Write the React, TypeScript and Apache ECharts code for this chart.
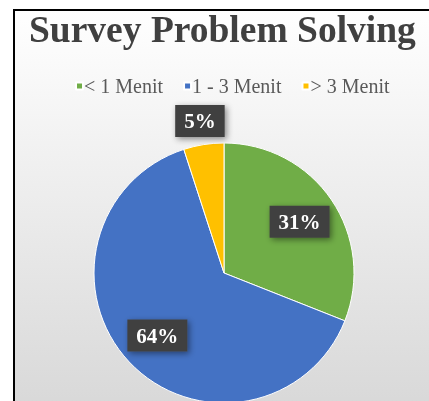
import React, { useEffect, useRef } from "react";
import * as echarts from "echarts";

const titleText = "Survey Problem Solving";
const categories = ["< 1 Menit", "1 - 3 Menit", "> 3 Menit"];
const values = [31, 64, 5];
const colors = ["#70AD47", "#4472C4", "#FFC000"];
// which slices carry their label inside (true) or outside (false) the pie
const labelInside = [true, true, false];

export default function App() {
  const ref = useRef<HTMLDivElement>(null);
  useEffect(() => {
    const chart = echarts.init(ref.current!, null, { renderer: "svg" });
    const R = 130;
    const center = [224, 273];
    const labelStyle = {
      formatter: "{c}%",
      color: "#ffffff",
      fontFamily: "Liberation Serif",
      fontWeight: "bold" as const,
      fontSize: 21,
      backgroundColor: "#404040",
      padding: [6, 9, 5, 9],
      shadowColor: "rgba(0,0,0,0.45)",
      shadowBlur: 6,
      shadowOffsetX: 2,
      shadowOffsetY: 2,
    };
    const mainData = categories.map((name, i) => ({
      name,
      value: values[i],
      itemStyle: { color: colors[i] },
    }));
    const labelData = (inside: boolean) =>
      categories.map((name, i) => ({
        name,
        value: values[i],
        label: { show: labelInside[i] === inside },
      }));
    const transparentSeries = {
      type: "pie" as const,
      center,
      startAngle: 90,
      silent: true,
      itemStyle: { color: "rgba(0,0,0,0)" },
      emphasis: { disabled: true },
      labelLine: { show: false },
    };
    chart.setOption({
      animation: false,
      graphic: [
        {
          type: "rect",
          z: -10,
          shape: { x: 0, y: 0, width: 429, height: 401 },
          style: { fill: "#ffffff" },
        },
        {
          type: "rect",
          z: -9,
          shape: { x: 14, y: 10, width: 440, height: 420 },
          style: {
            fill: new echarts.graphic.LinearGradient(0, 0, 0, 1, [
              { offset: 0, color: "#ffffff" },
              { offset: 1, color: "#d6d6d6" },
            ]),
            stroke: "#000000",
            lineWidth: 2,
          },
        },
      ],
      title: {
        text: titleText,
        left: 24,
        top: 5,
        textStyle: {
          fontFamily: "Liberation Serif",
          fontWeight: "bold",
          fontSize: 37.5,
          color: "#404040",
        },
      },
      legend: {
        left: 70,
        top: 71,
        icon: "rect",
        itemWidth: 7,
        itemHeight: 7,
        itemGap: 20,
        selectedMode: false,
        data: categories.map((name, i) => ({ name, itemStyle: { color: colors[i] } })),
        textStyle: {
          fontFamily: "Liberation Serif",
          fontSize: 20,
          color: "#595959",
          padding: [0, 0, 0, -4],
        },
      },
      series: [
        {
          type: "pie",
          center,
          radius: R,
          startAngle: 90,
          silent: true,
          itemStyle: { borderColor: "#ffffff", borderWidth: 1 },
          label: { show: false },
          labelLine: { show: false },
          data: mainData,
        },
        {
          ...transparentSeries,
          radius: [R * 0.36, R],
          label: { ...labelStyle, position: "inside" },
          data: labelData(true),
        },
        {
          ...transparentSeries,
          radius: [R, R * 1.32],
          label: { ...labelStyle, position: "inside" },
          data: labelData(false),
        },
      ],
    });
    return () => chart.dispose();
  }, []);
  return (
    <div
      ref={ref}
      style={{ position: "fixed", left: 0, top: 0, width: 429, height: 401 }}
    />
  );
}
